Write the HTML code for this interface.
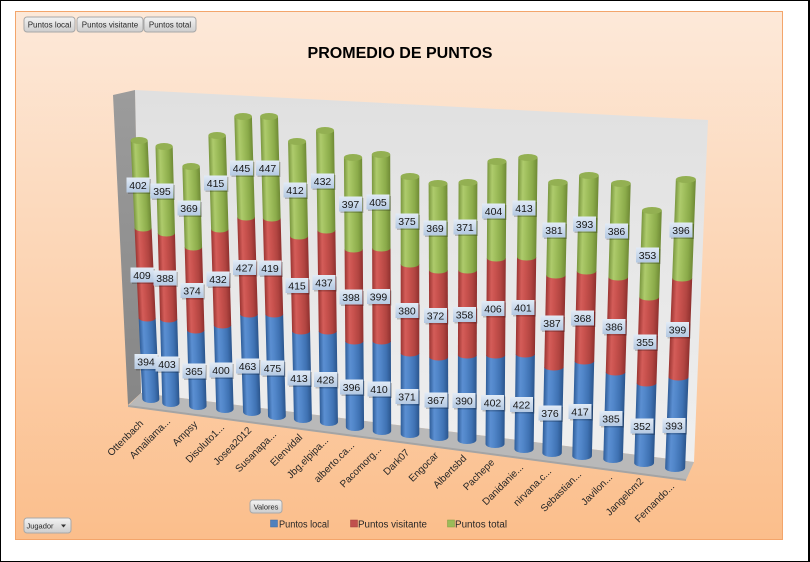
<!DOCTYPE html>
<html><head><meta charset="utf-8"><style>html,body{margin:0;padding:0;background:#fff}svg{display:block}</style></head>
<body>
<svg width="810" height="562" viewBox="0 0 810 562" xmlns="http://www.w3.org/2000/svg" font-family="'Liberation Sans', sans-serif">
<defs>
<linearGradient id="bg" x1="0" y1="0" x2="0" y2="1"><stop offset="0" stop-color="#fde9d9"/><stop offset=".5" stop-color="#fcd4b3"/><stop offset="1" stop-color="#fbbe8b"/></linearGradient>
<linearGradient id="wall" x1="0" y1="0" x2="0" y2="1"><stop offset="0" stop-color="#e0e0e0"/><stop offset="1" stop-color="#efefef"/></linearGradient>
<linearGradient id="side" x1="0" y1="0" x2="0" y2="1"><stop offset="0" stop-color="#9c9c9c"/><stop offset="1" stop-color="#868686"/></linearGradient>
<linearGradient id="cb" x1="0" y1="0" x2="1" y2="0"><stop offset="0" stop-color="#2f5d98"/><stop offset=".25" stop-color="#5b8fd2"/><stop offset=".45" stop-color="#5186c9"/><stop offset=".75" stop-color="#3f72b3"/><stop offset="1" stop-color="#2b558c"/></linearGradient>
<linearGradient id="cr" x1="0" y1="0" x2="1" y2="0"><stop offset="0" stop-color="#9b3532"/><stop offset=".25" stop-color="#d45d59"/><stop offset=".45" stop-color="#c9524e"/><stop offset=".75" stop-color="#b24541"/><stop offset="1" stop-color="#8f302e"/></linearGradient>
<linearGradient id="cg" x1="0" y1="0" x2="1" y2="0"><stop offset="0" stop-color="#7a973f"/><stop offset=".25" stop-color="#aecb6c"/><stop offset=".45" stop-color="#a0bf5d"/><stop offset=".75" stop-color="#8bab4a"/><stop offset="1" stop-color="#6f8a35"/></linearGradient>
<linearGradient id="btn" x1="0" y1="0" x2="0" y2="1"><stop offset="0" stop-color="#f3f3f3"/><stop offset="1" stop-color="#cdcdcd"/></linearGradient>
<linearGradient id="lg" x1="0" y1="0" x2="0" y2="1"><stop offset="0" stop-color="#e2ebf6"/><stop offset="1" stop-color="#b3c8e2"/></linearGradient>
<g id="lb"><rect x="-10" y="-6" width="23" height="15" fill="#000" opacity=".2"/><rect x="-11.5" y="-7.5" width="23" height="15" fill="url(#lg)"/></g>
</defs>
<rect x="0" y="0" width="810" height="562" fill="#fff"/>
<rect x="0" y="0" width="810" height="1" fill="#000"/>
<rect x="0" y="0" width="1" height="562" fill="#000"/>
<rect x="808" y="0" width="2" height="562" fill="#000"/>
<rect x="0" y="561" width="810" height="1" fill="#000"/>

<rect x="15.5" y="11.5" width="767" height="528" fill="url(#bg)" stroke="#f3a56b" stroke-width="1"/>

<g font-size="8" fill="#2a2a2a" text-anchor="middle">
<rect x="24" y="17" width="51" height="15" rx="3" fill="url(#btn)" stroke="#a8a8a8"/><text x="49.5" y="27.5">Puntos local</text>
<rect x="77" y="17" width="66" height="15" rx="3" fill="url(#btn)" stroke="#a8a8a8"/><text x="110" y="27.5">Puntos visitante</text>
<rect x="144" y="17" width="52" height="15" rx="3" fill="url(#btn)" stroke="#a8a8a8"/><text x="170" y="27.5">Puntos total</text>
<rect x="250" y="500" width="32" height="13" rx="3" fill="url(#btn)" stroke="#a8a8a8"/><text x="266" y="509.5" font-size="7.5">Valores</text>
<rect x="24" y="518" width="47" height="15" rx="3" fill="url(#btn)" stroke="#a8a8a8"/><text x="40" y="528.5" font-size="7.5">Jugador</text><path d="M61,524.5h5l-2.5,3z" fill="#333"/>
</g>

<text x="400" y="58" text-anchor="middle" font-size="16" font-weight="bold" fill="#000" textLength="185" lengthAdjust="spacingAndGlyphs">PROMEDIO DE PUNTOS</text>

<polygon points="135,90 708,120 694,462 141,393" fill="url(#wall)"/>
<polygon points="113,95 135,90 141,393 128,405" fill="url(#side)"/>
<polygon points="141,393 694,462 686,480 128,406" fill="#b9b9b9"/>
<polygon points="128,405 686,479 686,481 128,407" fill="#a4a4a4"/>

<g transform="matrix(1 0 .0451 1 132.82 0)"><path fill="url(#cb)" d="M-8.5,318V399A8.5,4 0 0 0 8.5,399V318Z"/><path fill="url(#cr)" d="M-8.5,228V318A8.5,3.5 0 0 0 8.5,318V228Z"/><path fill="url(#cg)" d="M-8.5,140.5V228A8.5,3.5 0 0 0 8.5,228V140.5Z"/><ellipse cx="0" cy="140.5" rx="8.5" ry="3.5" fill="#93b052"/></g>
<g transform="matrix(1 0 .0265 1 160.21 0)"><path fill="url(#cb)" d="M-8.6,319V403A8.6,4 0 0 0 8.6,403V319Z"/><path fill="url(#cr)" d="M-8.6,233V319A8.6,3.5 0 0 0 8.6,319V233Z"/><path fill="url(#cg)" d="M-8.6,146.5V233A8.6,3.5 0 0 0 8.6,233V146.5Z"/><ellipse cx="0" cy="146.5" rx="8.6" ry="3.5" fill="#93b052"/></g>
<g transform="matrix(1 0 .0283 1 186.38 0)"><path fill="url(#cb)" d="M-8.7,330V406A8.7,4 0 0 0 8.7,406V330Z"/><path fill="url(#cr)" d="M-8.7,247V330A8.7,3.5 0 0 0 8.7,330V247Z"/><path fill="url(#cg)" d="M-8.7,166.5V247A8.7,3.5 0 0 0 8.7,247V166.5Z"/><ellipse cx="0" cy="166.5" rx="8.7" ry="3.5" fill="#93b052"/></g>
<g transform="matrix(1 0 .0285 1 213.24 0)"><path fill="url(#cb)" d="M-8.7,325V409A8.7,4 0 0 0 8.7,409V325Z"/><path fill="url(#cr)" d="M-8.7,229V325A8.7,3.5 0 0 0 8.7,325V229Z"/><path fill="url(#cg)" d="M-8.7,135.5V229A8.7,3.5 0 0 0 8.7,229V135.5Z"/><ellipse cx="0" cy="135.5" rx="8.7" ry="3.5" fill="#93b052"/></g>
<g transform="matrix(1 0 .0297 1 239.64 0)"><path fill="url(#cb)" d="M-8.8,314V412A8.8,4 0 0 0 8.8,412V314Z"/><path fill="url(#cr)" d="M-8.8,217V314A8.8,3.5 0 0 0 8.8,314V217Z"/><path fill="url(#cg)" d="M-8.8,116.5V217A8.8,3.5 0 0 0 8.8,217V116.5Z"/><ellipse cx="0" cy="116.5" rx="8.8" ry="3.5" fill="#93b052"/></g>
<g transform="matrix(1 0 .0261 1 266.06 0)"><path fill="url(#cb)" d="M-8.9,314V416A8.9,4 0 0 0 8.9,416V314Z"/><path fill="url(#cr)" d="M-8.9,218V314A8.9,3.5 0 0 0 8.9,314V218Z"/><path fill="url(#cg)" d="M-8.9,116.5V218A8.9,3.5 0 0 0 8.9,218V116.5Z"/><ellipse cx="0" cy="116.5" rx="8.9" ry="3.5" fill="#93b052"/></g>
<g transform="matrix(1 0 .0211 1 294.09 0)"><path fill="url(#cb)" d="M-9,331V419A9,4 0 0 0 9,419V331Z"/><path fill="url(#cr)" d="M-9,236V331A9,3.5 0 0 0 9,331V236Z"/><path fill="url(#cg)" d="M-9,141.5V236A9,3.5 0 0 0 9,236V141.5Z"/><ellipse cx="0" cy="141.5" rx="9" ry="3.5" fill="#93b052"/></g>
<g transform="matrix(1 0 .0134 1 323.3 0)"><path fill="url(#cb)" d="M-9,331V422A9,4 0 0 0 9,422V331Z"/><path fill="url(#cr)" d="M-9,230V331A9,3.5 0 0 0 9,331V230Z"/><path fill="url(#cg)" d="M-9,130.5V230A9,3.5 0 0 0 9,230V130.5Z"/><ellipse cx="0" cy="130.5" rx="9" ry="3.5" fill="#93b052"/></g>
<g transform="matrix(1 0 .0072 1 351.89 0)"><path fill="url(#cb)" d="M-9.1,341V427A9.1,4 0 0 0 9.1,427V341Z"/><path fill="url(#cr)" d="M-9.1,249V341A9.1,3.5 0 0 0 9.1,341V249Z"/><path fill="url(#cg)" d="M-9.1,157.5V249A9.1,3.5 0 0 0 9.1,249V157.5Z"/><ellipse cx="0" cy="157.5" rx="9.1" ry="3.5" fill="#93b052"/></g>
<g transform="matrix(1 0 .0035 1 380.47 0)"><path fill="url(#cb)" d="M-9.2,341V431A9.2,4 0 0 0 9.2,431V341Z"/><path fill="url(#cr)" d="M-9.2,248V341A9.2,3.5 0 0 0 9.2,341V248Z"/><path fill="url(#cg)" d="M-9.2,154.5V248A9.2,3.5 0 0 0 9.2,248V154.5Z"/><ellipse cx="0" cy="154.5" rx="9.2" ry="3.5" fill="#93b052"/></g>
<g transform="matrix(1 0 0 1 410 0)"><path fill="url(#cb)" d="M-9.3,353V434A9.3,4 0 0 0 9.3,434V353Z"/><path fill="url(#cr)" d="M-9.3,264V353A9.3,3.5 0 0 0 9.3,353V264Z"/><path fill="url(#cg)" d="M-9.3,176.5V264A9.3,3.5 0 0 0 9.3,264V176.5Z"/><ellipse cx="0" cy="176.5" rx="9.3" ry="3.5" fill="#93b052"/></g>
<g transform="matrix(1 0 .0038 1 437.31 0)"><path fill="url(#cb)" d="M-9.4,357V437A9.4,4 0 0 0 9.4,437V357Z"/><path fill="url(#cr)" d="M-9.4,270V357A9.4,3.5 0 0 0 9.4,357V270Z"/><path fill="url(#cg)" d="M-9.4,183.5V270A9.4,3.5 0 0 0 9.4,270V183.5Z"/><ellipse cx="0" cy="183.5" rx="9.4" ry="3.5" fill="#93b052"/></g>
<g transform="matrix(1 0 -.0038 1 468.67 0)"><path fill="url(#cb)" d="M-9.4,355V440A9.4,4 0 0 0 9.4,440V355Z"/><path fill="url(#cr)" d="M-9.4,270V355A9.4,3.5 0 0 0 9.4,355V270Z"/><path fill="url(#cg)" d="M-9.4,182.5V270A9.4,3.5 0 0 0 9.4,270V182.5Z"/><ellipse cx="0" cy="182.5" rx="9.4" ry="3.5" fill="#93b052"/></g>
<g transform="matrix(1 0 -.0069 1 498.09 0)"><path fill="url(#cb)" d="M-9.5,355V444A9.5,4 0 0 0 9.5,444V355Z"/><path fill="url(#cr)" d="M-9.5,258V355A9.5,3.5 0 0 0 9.5,355V258Z"/><path fill="url(#cg)" d="M-9.5,161.5V258A9.5,3.5 0 0 0 9.5,258V161.5Z"/><ellipse cx="0" cy="161.5" rx="9.5" ry="3.5" fill="#93b052"/></g>
<g transform="matrix(1 0 -.0134 1 530.06 0)"><path fill="url(#cb)" d="M-9.6,354V449A9.6,4 0 0 0 9.6,449V354Z"/><path fill="url(#cr)" d="M-9.6,257V354A9.6,3.5 0 0 0 9.6,354V257Z"/><path fill="url(#cg)" d="M-9.6,157.5V257A9.6,3.5 0 0 0 9.6,257V157.5Z"/><ellipse cx="0" cy="157.5" rx="9.6" ry="3.5" fill="#93b052"/></g>
<g transform="matrix(1 0 -.0216 1 561.86 0)"><path fill="url(#cb)" d="M-9.7,367V453A9.7,4 0 0 0 9.7,453V367Z"/><path fill="url(#cr)" d="M-9.7,275V367A9.7,3.5 0 0 0 9.7,367V275Z"/><path fill="url(#cg)" d="M-9.7,182.5V275A9.7,3.5 0 0 0 9.7,275V182.5Z"/><ellipse cx="0" cy="182.5" rx="9.7" ry="3.5" fill="#93b052"/></g>
<g transform="matrix(1 0 -.0243 1 593.18 0)"><path fill="url(#cb)" d="M-9.8,361V456A9.8,4 0 0 0 9.8,456V361Z"/><path fill="url(#cr)" d="M-9.8,271V361A9.8,3.5 0 0 0 9.8,361V271Z"/><path fill="url(#cg)" d="M-9.8,175.5V271A9.8,3.5 0 0 0 9.8,271V175.5Z"/><ellipse cx="0" cy="175.5" rx="9.8" ry="3.5" fill="#93b052"/></g>
<g transform="matrix(1 0 -.0283 1 626.09 0)"><path fill="url(#cb)" d="M-9.8,372V459A9.8,4 0 0 0 9.8,459V372Z"/><path fill="url(#cr)" d="M-9.8,277V372A9.8,3.5 0 0 0 9.8,372V277Z"/><path fill="url(#cg)" d="M-9.8,183.5V277A9.8,3.5 0 0 0 9.8,277V183.5Z"/><ellipse cx="0" cy="183.5" rx="9.8" ry="3.5" fill="#93b052"/></g>
<g transform="matrix(1 0 -.0308 1 658.37 0)"><path fill="url(#cb)" d="M-9.9,383V463A9.9,4 0 0 0 9.9,463V383Z"/><path fill="url(#cr)" d="M-9.9,297V383A9.9,3.5 0 0 0 9.9,383V297Z"/><path fill="url(#cg)" d="M-9.9,210.5V297A9.9,3.5 0 0 0 9.9,297V210.5Z"/><ellipse cx="0" cy="210.5" rx="9.9" ry="3.5" fill="#93b052"/></g>
<g transform="matrix(1 0 -.0372 1 692.54 0)"><path fill="url(#cb)" d="M-10,377V468A10,4 0 0 0 10,468V377Z"/><path fill="url(#cr)" d="M-10,278V377A10,3.5 0 0 0 10,377V278Z"/><path fill="url(#cg)" d="M-10,179.5V278A10,3.5 0 0 0 10,278V179.5Z"/><ellipse cx="0" cy="179.5" rx="10" ry="3.5" fill="#93b052"/></g>

<g font-size="10.5" fill="#161616" text-anchor="middle">
<g transform="translate(138 185)"><use href="#lb"/><text y="3.8">402</text></g>
<g transform="translate(142 275)"><use href="#lb"/><text y="3.8">409</text></g>
<g transform="translate(146 361.5)"><use href="#lb"/><text y="3.8">394</text></g>
<g transform="translate(162 191)"><use href="#lb"/><text y="3.8">395</text></g>
<g transform="translate(165 278)"><use href="#lb"/><text y="3.8">388</text></g>
<g transform="translate(167 364)"><use href="#lb"/><text y="3.8">403</text></g>
<g transform="translate(189 208)"><use href="#lb"/><text y="3.8">369</text></g>
<g transform="translate(192 290.5)"><use href="#lb"/><text y="3.8">374</text></g>
<g transform="translate(194 371)"><use href="#lb"/><text y="3.8">365</text></g>
<g transform="translate(215.5 183)"><use href="#lb"/><text y="3.8">415</text></g>
<g transform="translate(218 279)"><use href="#lb"/><text y="3.8">432</text></g>
<g transform="translate(221 370)"><use href="#lb"/><text y="3.8">400</text></g>
<g transform="translate(241.5 168)"><use href="#lb"/><text y="3.8">445</text></g>
<g transform="translate(244.5 267.5)"><use href="#lb"/><text y="3.8">427</text></g>
<g transform="translate(247.5 366)"><use href="#lb"/><text y="3.8">463</text></g>
<g transform="translate(267.5 168)"><use href="#lb"/><text y="3.8">447</text></g>
<g transform="translate(270 268)"><use href="#lb"/><text y="3.8">419</text></g>
<g transform="translate(272.5 368)"><use href="#lb"/><text y="3.8">475</text></g>
<g transform="translate(295 190)"><use href="#lb"/><text y="3.8">412</text></g>
<g transform="translate(297 285.5)"><use href="#lb"/><text y="3.8">415</text></g>
<g transform="translate(299 378)"><use href="#lb"/><text y="3.8">413</text></g>
<g transform="translate(322.5 181)"><use href="#lb"/><text y="3.8">432</text></g>
<g transform="translate(324 282.5)"><use href="#lb"/><text y="3.8">437</text></g>
<g transform="translate(325.5 379.5)"><use href="#lb"/><text y="3.8">428</text></g>
<g transform="translate(350.5 204)"><use href="#lb"/><text y="3.8">397</text></g>
<g transform="translate(351 297)"><use href="#lb"/><text y="3.8">398</text></g>
<g transform="translate(351.5 387)"><use href="#lb"/><text y="3.8">396</text></g>
<g transform="translate(378 202)"><use href="#lb"/><text y="3.8">405</text></g>
<g transform="translate(378.5 296.5)"><use href="#lb"/><text y="3.8">399</text></g>
<g transform="translate(379 389)"><use href="#lb"/><text y="3.8">410</text></g>
<g transform="translate(407 221)"><use href="#lb"/><text y="3.8">375</text></g>
<g transform="translate(407 310.5)"><use href="#lb"/><text y="3.8">380</text></g>
<g transform="translate(407 396.5)"><use href="#lb"/><text y="3.8">371</text></g>
<g transform="translate(435 228)"><use href="#lb"/><text y="3.8">369</text></g>
<g transform="translate(435.5 315.5)"><use href="#lb"/><text y="3.8">372</text></g>
<g transform="translate(436 400)"><use href="#lb"/><text y="3.8">367</text></g>
<g transform="translate(465 227)"><use href="#lb"/><text y="3.8">371</text></g>
<g transform="translate(464.5 314.5)"><use href="#lb"/><text y="3.8">358</text></g>
<g transform="translate(464 400.5)"><use href="#lb"/><text y="3.8">390</text></g>
<g transform="translate(493.5 211)"><use href="#lb"/><text y="3.8">404</text></g>
<g transform="translate(493 308.5)"><use href="#lb"/><text y="3.8">406</text></g>
<g transform="translate(492.5 402.5)"><use href="#lb"/><text y="3.8">402</text></g>
<g transform="translate(524 208)"><use href="#lb"/><text y="3.8">413</text></g>
<g transform="translate(523 307.5)"><use href="#lb"/><text y="3.8">401</text></g>
<g transform="translate(521.5 404.5)"><use href="#lb"/><text y="3.8">422</text></g>
<g transform="translate(554 230)"><use href="#lb"/><text y="3.8">381</text></g>
<g transform="translate(552 323)"><use href="#lb"/><text y="3.8">387</text></g>
<g transform="translate(550 413)"><use href="#lb"/><text y="3.8">376</text></g>
<g transform="translate(584.5 224)"><use href="#lb"/><text y="3.8">393</text></g>
<g transform="translate(582.5 318)"><use href="#lb"/><text y="3.8">368</text></g>
<g transform="translate(580 411.5)"><use href="#lb"/><text y="3.8">417</text></g>
<g transform="translate(616.5 231)"><use href="#lb"/><text y="3.8">386</text></g>
<g transform="translate(614 326.5)"><use href="#lb"/><text y="3.8">386</text></g>
<g transform="translate(611 418.5)"><use href="#lb"/><text y="3.8">385</text></g>
<g transform="translate(647.5 255)"><use href="#lb"/><text y="3.8">353</text></g>
<g transform="translate(645 342)"><use href="#lb"/><text y="3.8">355</text></g>
<g transform="translate(642 426)"><use href="#lb"/><text y="3.8">352</text></g>
<g transform="translate(681 230)"><use href="#lb"/><text y="3.8">396</text></g>
<g transform="translate(677.5 329.5)"><use href="#lb"/><text y="3.8">399</text></g>
<g transform="translate(674 425.5)"><use href="#lb"/><text y="3.8">393</text></g>
</g>

<g font-size="10" fill="#262626" text-anchor="end">
<text transform="translate(144 424) rotate(-45)">Ottenbach</text>
<text transform="translate(171 422) rotate(-45)">Amaliama...</text>
<text transform="translate(198 425) rotate(-45)">Ampsy</text>
<text transform="translate(225 428) rotate(-45)">Disoluto1...</text>
<text transform="translate(252 431) rotate(-45)">Josea2012</text>
<text transform="translate(277 435) rotate(-45)">Susanapa...</text>
<text transform="translate(303 438) rotate(-45)">Elenvidal</text>
<text transform="translate(329 441) rotate(-45)">Jbg.elpipa...</text>
<text transform="translate(355 446) rotate(-45)">alberto.ca...</text>
<text transform="translate(382 450) rotate(-45)">Pacomorg...</text>
<text transform="translate(410 453) rotate(-45)">Dark07</text>
<text transform="translate(439 456) rotate(-45)">Engocar</text>
<text transform="translate(467 459) rotate(-45)">Albertsbd</text>
<text transform="translate(495 463) rotate(-45)">Pachepe</text>
<text transform="translate(524 468) rotate(-45)">Danidanie...</text>
<text transform="translate(552 472) rotate(-45)">nirvana.c...</text>
<text transform="translate(582 475) rotate(-45)">Sebastian...</text>
<text transform="translate(613 478) rotate(-45)">Javilon...</text>
<text transform="translate(644 482) rotate(-45)">Jangelcm2</text>
<text transform="translate(675 487) rotate(-45)">Fernando...</text>
</g>

<g font-size="10" fill="#262626">
<rect x="270.5" y="520" width="7" height="7" fill="#4f81bd" stroke="#3a6aa3" stroke-width=".5"/>
<text x="279" y="527.5" textLength="50" lengthAdjust="spacingAndGlyphs">Puntos local</text>
<rect x="350.5" y="520" width="7" height="7" fill="#c0504d" stroke="#a03e3c" stroke-width=".5"/>
<text x="358" y="527.5" textLength="69" lengthAdjust="spacingAndGlyphs">Puntos visitante</text>
<rect x="447.5" y="520" width="7" height="7" fill="#9bbb59" stroke="#7f9c41" stroke-width=".5"/>
<text x="455" y="527.5" textLength="52" lengthAdjust="spacingAndGlyphs">Puntos total</text>
</g>
</svg>
</body></html>
